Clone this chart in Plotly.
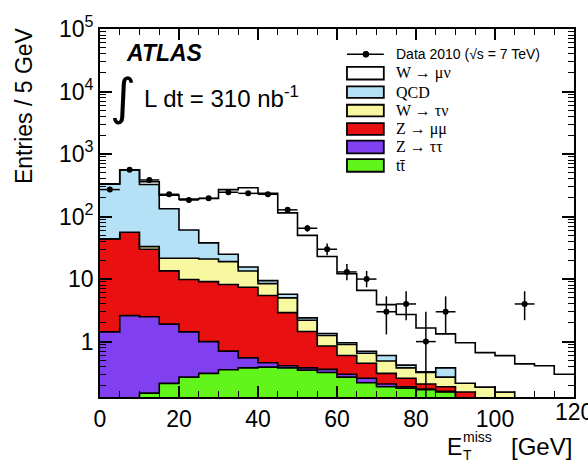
import numpy as np
import plotly.graph_objects as go

# ---------------- data ----------------
bin_edges = [0, 5, 10, 15, 20, 25, 30, 35, 40, 45, 50, 55, 60, 65, 70, 75, 80, 85, 90, 95, 100, 105, 110, 115, 120]
bin_centers = [2.5, 7.5, 12.5, 17.5, 22.5, 27.5, 32.5, 37.5, 42.5, 47.5, 52.5, 57.5, 62.5, 67.5, 72.5, 77.5,
               82.5, 87.5, 92.5, 97.5, 102.5, 107.5, 112.5, 117.5]

ttbar = [0, 0, 0.15, 0.215, 0.27, 0.31, 0.355, 0.38, 0.39, 0.38, 0.35, 0.32, 0.27, 0.22, 0.19, 0.18,
         0.17, 0.156, 0, 0, 0, 0, 0, 0]
z_tautau = [1.43, 2.6, 2.35, 1.69, 1.16, 0.69, 0.35, 0.17, 0.07, 0.03, 0.03, 0.04, 0.03, 0.04, 0.02, 0.01,
            0.005, 0.004, 0, 0, 0, 0, 0, 0]
z_mumu = [42.6, 53.4, 27.5, 11.6, 8.4, 8.1, 7.5, 6.85, 5.0, 2.5, 1.07, 0.49, 0.3, 0.19, 0.10, 0.07,
          0.035, 0.03, 0.156, 0, 0, 0, 0, 0]
w_taunu = [0, 0, 3, 8, 11.7, 11.9, 10.8, 6.1, 3.0, 2.1, 0.75, 0.4, 0.3, 0.2, 0.18, 0.12,
           0.11, 0.08, 0.06, 0.187, 0.156, 0, 0, 0]
qcd = [286, 499, 292, 111.5, 39.5, 17, 6, 2.1, 1.0, 0.7, 0.2, 0.1, 0.06, 0.05, 0.11, 0.04,
       0.01, 0.11, 0, 0, 0, 0, 0, 0]
w_munu = [5, 5, 35, 87, 129, 157, 245, 274, 225, 109, 47.6, 21.6, 11.2, 5.9, 3.3, 2.3,
          1.32, 0.95, 0.745, 0.48, 0.44, 0.44, 0.41, 0.3]

data_2010 = [270, 560, 385, 227, 184, 196, 245, 235, 227, 128, 65, 30, 13, 10, 3, 4,
             1, 3, None, None, None, 4, None, None]
data_err_up = [16, 24, 20, 15, 14, 14, 16, 15, 15, 11, 8, 7, 4.5, 3.5, 2.3, 2.4,
               2.0, 2.3, None, None, None, 2.4, None, None]
data_err_dn = [16, 24, 20, 15, 14, 14, 16, 15, 15, 11, 8, 6, 3.4, 2.6, 1.7, 1.8,
               0.999, 1.7, None, None, None, 1.8, None, None]

y_tick_vals = [1, 10, 100, 1000, 10000, 100000]
y_tick_text = ["1", "10", "10<sup>2</sup>", "10<sup>3</sup>", "10<sup>4</sup>", "10<sup>5</sup>"]
x_tick_vals = [0, 20, 40, 60, 80, 100]
x_tick_text = ["0", "20", "40", "60", "80", "100"]
x_last_tick = "120"

layers = [
    ("tt\u0304", ttbar, "#62f51c"),
    ("Z \u2192 \u03c4\u03c4", z_tautau, "#8040f0"),
    ("Z \u2192 \u03bc\u03bc", z_mumu, "#e81010"),
    ("W \u2192 \u03c4\u03bd", w_taunu, "#f8f8a0"),
    ("QCD", qcd, "#b4e1f5"),
    ("W \u2192 \u03bc\u03bd", w_munu, "#ffffff"),
]

# ---------------- figure ----------------
FLOOR = 1e-3
fig = go.Figure()
fig.add_trace(go.Scatter(x=bin_edges, y=[FLOOR] * len(bin_edges), mode="lines",
                         line=dict(width=0, color="rgba(0,0,0,0)"), showlegend=False,
                         hoverinfo="skip"))
cum = np.zeros(len(bin_centers))
for name, vals, color in layers:
    cum = cum + np.array(vals, dtype=float)
    top = np.maximum(cum, FLOOR)
    ys = list(top) + [top[-1]]
    fig.add_trace(go.Scatter(x=bin_edges, y=ys, mode="lines", line_shape="hv",
                             fill="tonexty", fillcolor=color,
                             line=dict(color="black", width=1.6), name=name, showlegend=False))

fig.add_trace(go.Scatter(
    x=bin_centers, y=data_2010, mode="markers",
    marker=dict(color="black", size=6),
    error_x=dict(type="constant", value=2.5, thickness=1.5, width=0, color="black"),
    error_y=dict(type="data", symmetric=False, array=data_err_up, arrayminus=data_err_dn,
                 thickness=1.5, width=0, color="black"),
    showlegend=False, name="Data 2010"))

# pixel -> paper helpers (plot area: x 100..576, y 18..397)
L, R, T, B = 100, 576, 18, 397
def px(x):
    return (x - L) / (R - L)
def py(y):
    return (B - y) / (B - T)

shapes = []
annotations = []

def text(t, x, y, size, family="Liberation Sans", xanchor="left", angle=0):
    annotations.append(dict(text=t, xref="paper", yref="paper", x=px(x), y=py(y),
                            xanchor=xanchor, yanchor="middle", showarrow=False, textangle=angle,
                            font=dict(family=family, size=size, color="black")))

# manual legend
leg_x0, leg_x1, text_x = 348, 385, 395
shapes.append(dict(type="line", xref="paper", yref="paper", x0=px(leg_x0), x1=px(leg_x1),
                   y0=py(44), y1=py(44), line=dict(color="black", width=1.5)))
shapes.append(dict(type="circle", xref="paper", yref="paper", x0=px(364), x1=px(370),
                   y0=py(41), y1=py(47), fillcolor="black", line=dict(color="black", width=1)))
text("Data 2010 (\u221as = 7 TeV)", text_x, 44, 14)
legend_rows = [("W \u2192 \u03bc\u03bd", "#ffffff", 57, 70),
               ("QCD", "#b4e1f5", 77, 89),
               ("W \u2192 \u03c4\u03bd", "#f8f8a0", 96, 108),
               ("Z \u2192 \u03bc\u03bc", "#e81010", 115, 127),
               ("Z \u2192 \u03c4\u03c4", "#8040f0", 133, 146),
               ("tt\u0304", "#62f51c", 152, 165)]
for label, color, y0, y1 in legend_rows:
    shapes.append(dict(type="rect", xref="paper", yref="paper", x0=px(leg_x0), x1=px(leg_x1),
                       y0=py(y1), y1=py(y0), fillcolor=color, line=dict(color="black", width=1.8)))
    text(label, text_x, (y0 + y1) / 2, 16, family="Liberation Serif")

# ATLAS label and luminosity
text("<b><i>ATLAS</i></b>", 124, 43, 23)
text("\u222b", 123, 88, 50, family="DejaVu Sans", xanchor="center")
text("L dt = 310 nb<sup>-1</sup>", 142, 88, 24)

# axis titles
text("Entries / 5 GeV", 23, 97, 23, xanchor="center", angle=-90)
text("E", 446, 448, 23)
text("miss", 463, 438, 14)
text("T", 463, 457, 14)
text("[GeV]", 576, 448, 24, xanchor="right")
# last x tick label (partly outside the picture, as in the reference)
text(x_last_tick, 576, 412, 23, xanchor="center")

minor_y = [m * 10.0 ** e for e in range(-1, 5) for m in range(2, 10)]

fig.update_layout(
    width=588, height=470, autosize=False,
    margin=dict(l=L, r=588 - R, t=T, b=470 - B),
    paper_bgcolor="white", plot_bgcolor="white",
    showlegend=False,
    shapes=shapes, annotations=annotations,
    font=dict(family="Liberation Sans", color="black"),
    xaxis=dict(range=[0, 120], tickmode="array", tickvals=x_tick_vals, ticktext=x_tick_text,
               ticks="inside", ticklen=11, tickwidth=1.5, tickcolor="black",
               showline=True, linecolor="black", linewidth=1.8, mirror="ticks",
               showgrid=False, zeroline=False,
               tickfont=dict(family="Liberation Sans", size=23, color="black"),
               minor=dict(ticks="inside", tickmode="linear", tick0=0, dtick=5, ticklen=6,
                          tickwidth=1.2, tickcolor="black", showgrid=False)),
    yaxis=dict(type="log", range=[np.log10(0.13), 5], tickmode="array",
               tickvals=y_tick_vals, ticktext=y_tick_text,
               ticks="inside", ticklen=12, tickwidth=1.5, tickcolor="black",
               showline=True, linecolor="black", linewidth=1.8, mirror="ticks",
               showgrid=False, zeroline=False,
               tickfont=dict(family="Liberation Sans", size=23, color="black"),
               minor=dict(ticks="inside", tickmode="array", tickvals=minor_y, ticklen=6,
                          tickwidth=1.2, tickcolor="black", showgrid=False)),
)

fig.write_html("out.html")
